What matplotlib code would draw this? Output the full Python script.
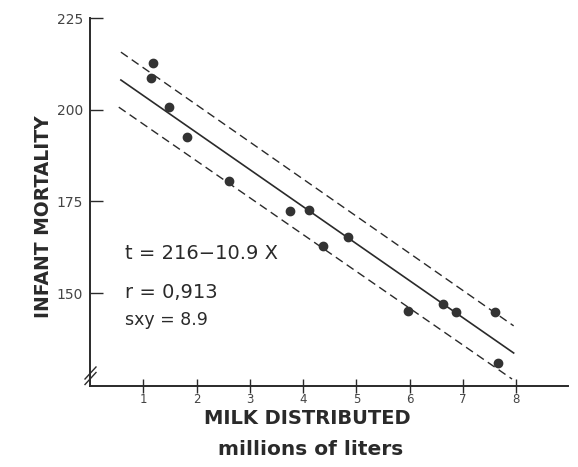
#! /usr/bin/env python3

"""Infant mortality against milk distributed, with regression line and band"""

import matplotlib
matplotlib.use("Agg")
import matplotlib.pyplot as plt

# data
milk = [1.18, 1.14, 1.48, 1.82, 2.61, 3.75, 4.11, 4.37, 4.84, 5.97, 6.62, 6.87, 7.60, 7.65]
mortality = [212.7, 208.7, 200.7, 192.6, 180.6, 172.3, 172.7, 162.9, 165.3, 145.2, 147.1, 144.9, 144.9, 131.0]

# regression line and the +/- band as drawn
line_x = [0.58, 7.95]
fit_y = [208.1, 133.7]
upper_y = [215.7, 141.1]
lower_x = [0.54, 7.92]
lower_y = [200.7, 126.6]

x_ticks = [1, 2, 3, 4, 5, 6, 7, 8]
y_ticks = [150, 175, 200, 225]

ink = "#2a2a2a"


def main():
    W, H = 578, 467
    fig = plt.figure(figsize=(W / 100, H / 100), dpi=100)
    ax = fig.add_axes([90 / W, 1 - 386 / H, 478 / W, 368 / H])

    ax.scatter(milk, mortality, s=36, color="#333333", zorder=3)
    ax.plot(line_x, fit_y, color=ink, lw=1.2)
    ax.plot(line_x, upper_y, color=ink, lw=1.0, dashes=(6, 3.5))
    ax.plot(lower_x, lower_y, color=ink, lw=1.0, dashes=(6, 3.5))

    ax.set_xlim(0, 8.97)
    ax.set_ylim(124.7, 225)

    for side in ["top", "right"]:
        ax.spines[side].set_visible(False)
    for side in ["left", "bottom"]:
        ax.spines[side].set_color(ink)
        ax.spines[side].set_linewidth(1.4)

    ax.set_xticks(x_ticks)
    ax.set_yticks(y_ticks)
    ax.tick_params(axis="x", direction="inout", length=10, width=1.0, color=ink,
                   pad=0, labelsize=8.5, labelcolor="#444444")
    ax.tick_params(axis="y", direction="in", length=9, width=1.0, color=ink,
                   pad=5, labelsize=10, labelcolor="#444444")

    # axis break marks on the y axis
    for yb in [373, 378.5]:
        ya = (386 - yb) / 368
        ax.plot([-5 / 478, 6 / 478], [ya - 6 / 368, ya + 6 / 368], color=ink,
                lw=1.0, transform=ax.transAxes, clip_on=False)

    # axis labels
    fig.text(44 / W, 1 - 217 / H, "INFANT MORTALITY", rotation=90, ha="center",
             va="center", fontsize=13.5, fontweight="bold", color=ink)
    fig.text(307 / W, 1 - 424 / H, "MILK DISTRIBUTED", ha="center",
             va="baseline", fontsize=14, fontweight="bold", color=ink)
    fig.text(311 / W, 1 - 455 / H, "millions of liters", ha="center",
             va="baseline", fontsize=14.5, fontweight="bold", color=ink)

    # regression stats
    ax.text(35 / 478, (386 - 259) / 368, "t = 216\u221210.9 X", transform=ax.transAxes,
            fontsize=14, color=ink, va="baseline")
    ax.text(35 / 478, (386 - 298) / 368, "r = 0,913", transform=ax.transAxes,
            fontsize=14, color=ink, va="baseline")
    ax.text(35 / 478, (386 - 325) / 368, "sxy = 8.9", transform=ax.transAxes,
            fontsize=12.5, color=ink, va="baseline")

    fig.savefig("out.png", dpi=100)


if __name__ == "__main__":
    main()
